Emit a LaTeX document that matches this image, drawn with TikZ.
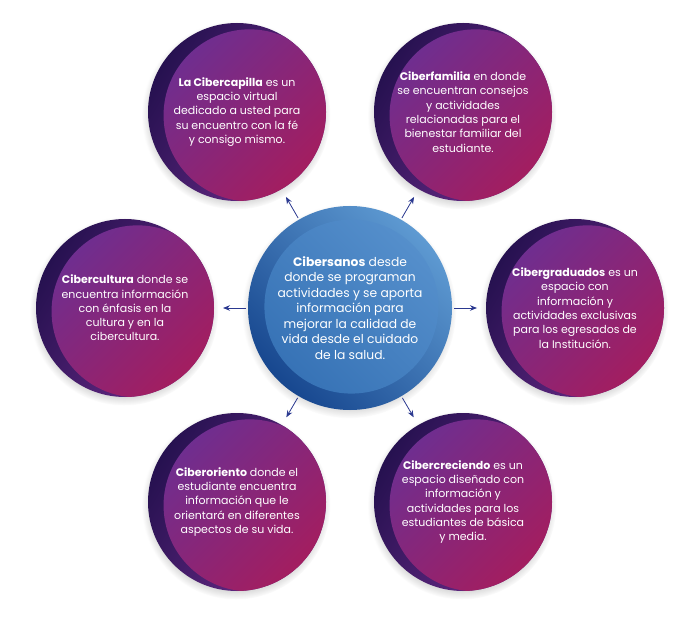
\documentclass[tikz,border=0pt]{standalone}
\usepackage{fontspec}
\setmainfont{Poppins}
\usetikzlibrary{arrows.meta,shadows}

\definecolor{ringdark}{HTML}{261150}
\definecolor{ringlite}{HTML}{6E2C8C}
\definecolor{discpurple}{HTML}{6B2F93}
\definecolor{discmagenta}{HTML}{A51D5E}
\definecolor{hubdark}{HTML}{17478F}
\definecolor{hublite}{HTML}{5E9AD2}
\definecolor{discblue}{HTML}{5791CD}
\definecolor{discdeep}{HTML}{3470B4}
\definecolor{arrowblue}{HTML}{2B3990}

\tikzset{
  bubble/.style={circle, minimum size=178pt, inner sep=0pt, outer sep=0pt,
    text=white, align=center, font=\fontsize{11}{14.3}\selectfont,
    circular drop shadow={shadow xshift=-1pt, shadow yshift=-3pt, shadow scale=1.06, opacity=.45},
    top color=ringdark, bottom color=ringlite, shading angle=60,
    path picture={\shade[top color=discpurple, bottom color=discmagenta, shading angle=45]
      ([shift={(-15:13pt)}]path picture bounding box.center) circle (86pt);}},
  hub/.style={circle, minimum size=204pt, inner sep=0pt, outer sep=0pt,
    text=white, align=center, font=\fontsize{12.3}{15.5}\selectfont,
    circular drop shadow={shadow xshift=-1pt, shadow yshift=-3pt, shadow scale=1.05, opacity=.45},
    top color=hublite, bottom color=hubdark, shading angle=-45,
    path picture={\shade[top color=discblue, bottom color=discdeep, shading angle=-45]
      ([shift={(45:2pt)}]path picture bounding box.center) circle (87pt);}},
  link/.style={arrowblue, line width=0.8pt, -{Stealth[length=7pt, width=5.5pt]},
    shorten <=2pt, shorten >=9pt}
}

\begin{document}
\begin{tikzpicture}[x=1pt, y=1pt]
  \useasboundingbox (0,0) rectangle (700,616);
  \node[hub] (hub) at (350,308) {\textbf{Cibersanos} desde\\donde se programan\\actividades y se aporta\\información para\\mejorar la calidad de\\vida desde el cuidado\\de la salud.};

  \node[bubble] (capilla) at (237,504) {\textbf{La Cibercapilla} es un\\espacio virtual\\dedicado a usted para\\su encuentro con la fé\\y consigo mismo.};
  \node[bubble] (familia) at (463,504) {\textbf{Ciberfamilia} en donde\\se encuentran consejos\\y actividades\\relacionadas para el\\bienestar familiar del\\estudiante.};
  \node[bubble] (cultura) at (125,308) {\textbf{Cibercultura} donde se\\encuentra información\\con énfasis en la\\cultura y en la\\cibercultura.};
  \node[bubble] (graduados) at (575,308) {\textbf{Cibergraduados} es un\\espacio con\\información y\\actividades exclusivas\\para los egresados de\\la Institución.};
  \node[bubble] (oriento) at (237,114) {\textbf{Ciberoriento} donde el\\estudiante encuentra\\información que le\\orientará en diferentes\\aspectos de su vida.};
  \node[bubble] (creciendo) at (463,114) {\textbf{Cibercreciendo} es un\\espacio diseñado con\\información y\\actividades para los\\estudiantes de básica\\y media.};

  \foreach \n in {capilla,familia,cultura,graduados,oriento,creciendo}
    \draw[link] (hub) -- (\n);
\end{tikzpicture}
\end{document}
